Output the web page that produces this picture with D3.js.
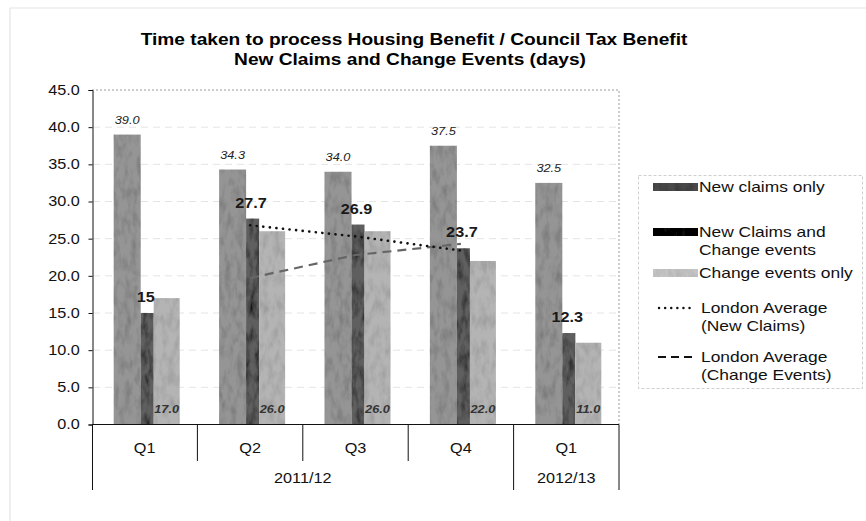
<!DOCTYPE html>
<html><head><meta charset="utf-8">
<script src="https://cdn.jsdelivr.net/npm/d3@7"></script>
<style>
body{margin:0;background:#fff;}
svg{display:block;font-family:"Liberation Sans",Arial,sans-serif;}
</style>
</head><body>
<svg id="c" width="866" height="521"></svg>
<script>
// ---------- data ----------
const titleLines = ["Time taken to process Housing Benefit / Council Tax Benefit",
                    "New Claims and Change Events (days)"];
const quarters = ["Q1","Q2","Q3","Q4","Q1"];
const yearLabels = ["2011/12","2012/13"];
const yearSpans = [4,1];
const newClaims = [39.0,34.3,34.0,37.5,32.5];
const newClaimsLabels = ["39.0","34.3","34.0","37.5","32.5"];
const combined = [15,27.7,26.9,23.7,12.3];
const combinedLabels = ["15","27.7","26.9","23.7","12.3"];
const changeEvents = [17.0,26.0,26.0,22.0,11.0];
const changeLabels = ["17.0","26.0","26.0","22.0","11.0"];
const londonNew = [null,26.8,25.3,23.4,null];
const londonChange = [null,19.7,22.8,24.3,null];
const yTicks = [0,5,10,15,20,25,30,35,40,45];
const legendLabels = [["New claims only"],["New Claims and","Change events"],["Change events only"],
                      ["London Average","(New Claims)"],["London Average","(Change Events)"]];

// ---------- setup ----------
const SX = 1.16; // horizontal stretch of the scanned text
const svg = d3.select("#c");
const defs = svg.append("defs");
function grain(id, freq, a, b, seed){
  const f = defs.append("filter").attr("id", id).attr("x",0).attr("y",0).attr("width","100%").attr("height","100%");
  f.append("feTurbulence").attr("type","fractalNoise").attr("baseFrequency",freq).attr("numOctaves",3).attr("seed",seed).attr("result","n");
  f.append("feColorMatrix").attr("in","n").attr("type","matrix")
   .attr("values",`0 0 0 0 0  0 0 0 0 0  0 0 0 0 0  ${a} 0 0 0 ${b}`).attr("result","d");
  f.append("feComposite").attr("in","d").attr("in2","SourceGraphic").attr("operator","in").attr("result","di");
  const m = f.append("feMerge");
  m.append("feMergeNode").attr("in","SourceGraphic");
  m.append("feMergeNode").attr("in","di");
}
grain("g1","0.16 0.07",0.7,-0.28,3);
grain("g2","0.16 0.06",1.8,-0.7,7);
grain("g3","0.16 0.07",0.5,-0.2,11);

function txt(g, x, y, s, o={}){
  return g.append("text")
    .attr("transform", `translate(${x},${y}) scale(${o.sx||SX},1)`)
    .attr("text-anchor", o.anchor||"start")
    .attr("font-size", o.size||14)
    .attr("font-weight", o.weight||"normal")
    .attr("font-style", o.style||"normal")
    .attr("fill", o.fill||"#111")
    .text(s);
}

// faint outer frame
svg.append("path").attr("d","M10,521 V8 H866").attr("fill","none").attr("stroke","#e4e4e4").attr("stroke-width",1.2);

const x = d3.scaleBand().domain(d3.range(quarters.length)).range([92,619]).padding(0);
const y = d3.scaleLinear().domain([0,45]).range([424.5,90]);
const cx = i => x(i) + x.bandwidth()/2;

// gridlines
svg.append("g").selectAll("line").data(yTicks.slice(1,-1)).join("line")
  .attr("x1",93).attr("x2",618).attr("y1",d=>y(d)).attr("y2",d=>y(d))
  .attr("stroke","#e4e4e4").attr("stroke-dasharray","7,5");

// plot border (top & right, dotted)
svg.append("path").attr("d",`M92,${y(45)} H619 V${y(0)}`).attr("fill","none")
  .attr("stroke","#9a9a9a").attr("stroke-dasharray","2,2");

// bars
const bars = svg.append("g");
bars.selectAll(".nc").data(newClaims).join("rect")
  .attr("x",(d,i)=>cx(i)-31).attr("width",27)
  .attr("y",d=>y(d)).attr("height",d=>y(0)-y(d))
  .attr("fill","#959595").attr("filter","url(#g1)");
bars.selectAll(".cb").data(combined).join("rect")
  .attr("x",(d,i)=>cx(i)-4).attr("width",13)
  .attr("y",d=>y(d)).attr("height",d=>y(0)-y(d))
  .attr("fill","#5e5e5e").attr("filter","url(#g2)");
bars.selectAll(".ce").data(changeEvents).join("rect")
  .attr("x",(d,i)=>cx(i)+9).attr("width",26)
  .attr("y",d=>y(d)).attr("height",d=>y(0)-y(d))
  .attr("fill","#b4b4b4").attr("filter","url(#g3)");

// London average lines
const line = d3.line().defined(d=>d!=null).x((d,i)=>cx(i)).y(d=>y(d));
svg.append("path").datum(londonChange).attr("d",line).attr("fill","none")
  .attr("stroke","#666").attr("stroke-width",2.2).attr("stroke-dasharray","9,6");
svg.append("path").datum(londonNew).attr("d",line).attr("fill","none")
  .attr("stroke","#111").attr("stroke-width",2.6).attr("stroke-linecap","round").attr("stroke-dasharray","0.1,6.5");

// data labels
const lab = svg.append("g");
newClaims.forEach((v,i)=> txt(lab, cx(i)-17.5, y(v)-11, newClaimsLabels[i], {anchor:"middle", size:11, style:"italic", fill:"#222"}));
combined.forEach((v,i)=> txt(lab, cx(i)+1, y(v)-11, combinedLabels[i], {anchor:"middle", size:14, weight:"bold", fill:"#1a1a1a"}));
changeEvents.forEach((v,i)=> txt(lab, cx(i)+22, y(0)-11.5, changeLabels[i], {anchor:"middle", size:11, style:"italic", weight:"bold", fill:"#333"}));

// y axis
const ya = svg.append("g").attr("transform","translate(92.5,0)")
  .call(d3.axisLeft(y).tickValues(yTicks).tickFormat(d3.format(".1f")).tickSize(4).tickPadding(7));
ya.select(".domain").attr("stroke","#111");
ya.selectAll(".tick line").attr("stroke","#111");
ya.selectAll(".tick text").attr("font-size",14).attr("font-family","Liberation Sans, Arial, sans-serif")
  .attr("fill","#111").attr("transform",`scale(${SX},1)`);

// category axis
const ax = svg.append("g");
ax.append("line").attr("x1",92).attr("x2",619).attr("y1",y(0)).attr("y2",y(0)).attr("stroke","#111");
d3.range(1,quarters.length).forEach(i=>{
  const isYear = d3.cumsum(yearSpans).includes(i);
  ax.append("line").attr("x1",x(i)).attr("x2",x(i)).attr("y1",y(0)).attr("y2",isYear?490:461)
    .attr("stroke","#111");
});
ax.append("line").attr("x1",92.5).attr("x2",92.5).attr("y1",y(0)).attr("y2",490).attr("stroke","#111");
ax.append("line").attr("x1",619).attr("x2",619).attr("y1",y(0)).attr("y2",490).attr("stroke","#111");
quarters.forEach((q,i)=> txt(ax, cx(i), 453, q, {anchor:"middle", size:14}));
let start = 0;
yearLabels.forEach((yl,k)=>{
  const end = start + yearSpans[k];
  const mid = (x(start) + x(end-1) + x.bandwidth())/2;
  txt(ax, mid, 483, yl, {anchor:"middle", size:14});
  start = end;
});

// title
txt(svg, 414, 45, titleLines[0], {anchor:"middle", size:16.5, weight:"bold", fill:"#000"});
txt(svg, 410, 65, titleLines[1], {anchor:"middle", size:16.5, weight:"bold", fill:"#000"});

// legend
const lg = svg.append("g");
lg.append("rect").attr("x",638.5).attr("y",175.5).attr("width",224).attr("height",213)
  .attr("fill","#fff").attr("stroke","#cfcfcf").attr("stroke-dasharray","3,2");
const legY = [187,232,273,308,357];
const swFill = ["#4a4a4a","#111","#c4c4c4"];
const swFilt = ["url(#g1)","url(#g2)","url(#g3)"];
legendLabels.forEach((lines,k)=>{
  const yy = legY[k];
  if(k<3){
    lg.append("rect").attr("x",653).attr("y",yy-4).attr("width",45).attr("height",8)
      .attr("fill",swFill[k]).attr("filter",swFilt[k]);
  } else if(k===3){
    lg.append("line").attr("x1",659).attr("x2",695).attr("y1",yy).attr("y2",yy)
      .attr("stroke","#111").attr("stroke-width",2.4).attr("stroke-linecap","round").attr("stroke-dasharray","0.1,6");
  } else {
    lg.append("line").attr("x1",658).attr("x2",696).attr("y1",yy).attr("y2",yy)
      .attr("stroke","#111").attr("stroke-width",2.2).attr("stroke-dasharray","8,5");
  }
  const tx = k<3 ? 699 : 701;
  lines.forEach((l,j)=> txt(lg, tx, yy+5+j*18, l, {size:15, fill:"#111"}));
});
</script>
</body></html>
